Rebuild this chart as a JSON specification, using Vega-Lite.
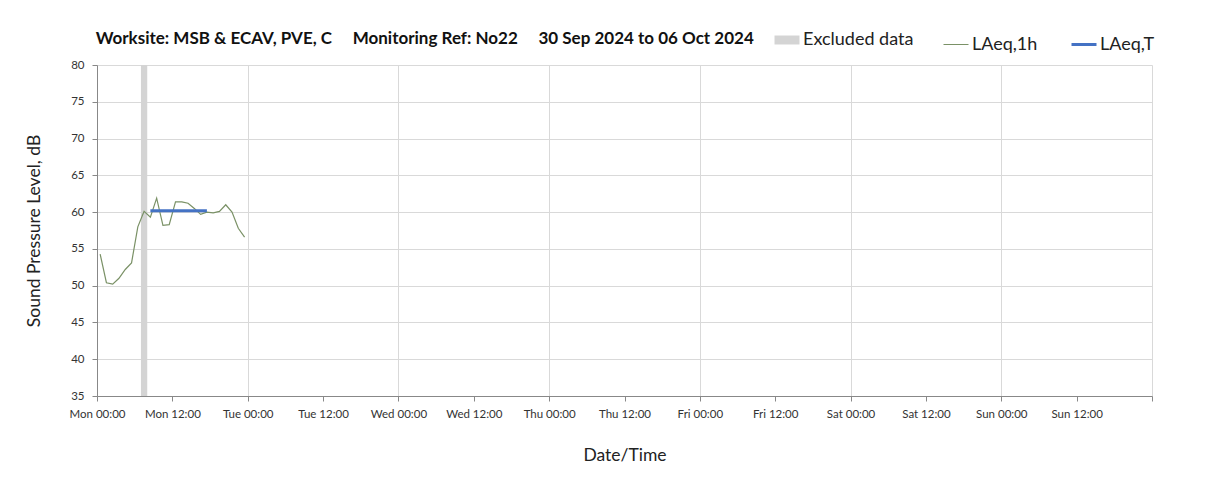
{
  "$schema": "https://vega.github.io/schema/vega-lite/v6.json",
  "padding": {"left": 25, "top": 30, "right": 0, "bottom": 10},
  "width": 1055,
  "height": 331,
  "background": "white",
  "config": {
    "view": {"stroke": null},
    "font": "Lato",
    "axisY": {"labelOverlap": false}
  },
  "title": {
    "text": "Worksite: MSB & ECAV, PVE, C\u00a0\u00a0\u00a0\u00a0 Monitoring Ref: No22\u00a0\u00a0\u00a0\u00a0 30 Sep 2024 to 06 Oct 2024",
    "anchor": "start",
    "fontSize": 17,
    "fontWeight": "bold",
    "color": "#111111",
    "offset": -17,
    "dx": 70
  },
  "layer": [
    {
      "data": {"values": [
        {"start": "2024-09-30T07:00:00Z", "end": "2024-09-30T08:00:00Z", "series": "Excluded data"}
      ]},
      "mark": {"type": "rect", "color": "#d4d4d4"},
      "encoding": {
        "x": {"field": "start", "type": "temporal"},
        "x2": {"field": "end"},
        "color": {"field": "series", "type": "nominal"}
      }
    },
    {
      "data": {"values": [
        {"t": "2024-09-30T00:30:00Z", "v": 54.3, "series": "LAeq,1h"},
        {"t": "2024-09-30T01:30:00Z", "v": 50.4, "series": "LAeq,1h"},
        {"t": "2024-09-30T02:30:00Z", "v": 50.2, "series": "LAeq,1h"},
        {"t": "2024-09-30T03:30:00Z", "v": 51.0, "series": "LAeq,1h"},
        {"t": "2024-09-30T04:30:00Z", "v": 52.2, "series": "LAeq,1h"},
        {"t": "2024-09-30T05:30:00Z", "v": 53.1, "series": "LAeq,1h"},
        {"t": "2024-09-30T06:30:00Z", "v": 58.0, "series": "LAeq,1h"},
        {"t": "2024-09-30T07:30:00Z", "v": 60.1, "series": "LAeq,1h"},
        {"t": "2024-09-30T08:30:00Z", "v": 59.3, "series": "LAeq,1h"},
        {"t": "2024-09-30T09:30:00Z", "v": 61.9, "series": "LAeq,1h"},
        {"t": "2024-09-30T10:30:00Z", "v": 58.2, "series": "LAeq,1h"},
        {"t": "2024-09-30T11:30:00Z", "v": 58.3, "series": "LAeq,1h"},
        {"t": "2024-09-30T12:30:00Z", "v": 61.4, "series": "LAeq,1h"},
        {"t": "2024-09-30T13:30:00Z", "v": 61.4, "series": "LAeq,1h"},
        {"t": "2024-09-30T14:30:00Z", "v": 61.2, "series": "LAeq,1h"},
        {"t": "2024-09-30T15:30:00Z", "v": 60.5, "series": "LAeq,1h"},
        {"t": "2024-09-30T16:30:00Z", "v": 59.7, "series": "LAeq,1h"},
        {"t": "2024-09-30T17:30:00Z", "v": 60.0, "series": "LAeq,1h"},
        {"t": "2024-09-30T18:30:00Z", "v": 59.9, "series": "LAeq,1h"},
        {"t": "2024-09-30T19:30:00Z", "v": 60.1, "series": "LAeq,1h"},
        {"t": "2024-09-30T20:30:00Z", "v": 61.0, "series": "LAeq,1h"},
        {"t": "2024-09-30T21:30:00Z", "v": 60.0, "series": "LAeq,1h"},
        {"t": "2024-09-30T22:30:00Z", "v": 57.8, "series": "LAeq,1h"},
        {"t": "2024-09-30T23:30:00Z", "v": 56.6, "series": "LAeq,1h"}
      ]},
      "mark": {"type": "line", "strokeWidth": 1.2},
      "encoding": {
        "x": {
          "field": "t",
          "type": "temporal",
          "title": "Date/Time",
          "scale": {
            "type": "utc",
            "domain": [
              {"year": 2024, "month": 9, "date": 30, "hours": 0, "utc": true},
              {"year": 2024, "month": 10, "date": 7, "hours": 0, "utc": true}
            ],
            "nice": false
          },
          "axis": {
            "values": [
              {"year": 2024, "month": 9, "date": 30, "hours": 0, "utc": true},
              {"year": 2024, "month": 9, "date": 30, "hours": 12, "utc": true},
              {"year": 2024, "month": 10, "date": 1, "hours": 0, "utc": true},
              {"year": 2024, "month": 10, "date": 1, "hours": 12, "utc": true},
              {"year": 2024, "month": 10, "date": 2, "hours": 0, "utc": true},
              {"year": 2024, "month": 10, "date": 2, "hours": 12, "utc": true},
              {"year": 2024, "month": 10, "date": 3, "hours": 0, "utc": true},
              {"year": 2024, "month": 10, "date": 3, "hours": 12, "utc": true},
              {"year": 2024, "month": 10, "date": 4, "hours": 0, "utc": true},
              {"year": 2024, "month": 10, "date": 4, "hours": 12, "utc": true},
              {"year": 2024, "month": 10, "date": 5, "hours": 0, "utc": true},
              {"year": 2024, "month": 10, "date": 5, "hours": 12, "utc": true},
              {"year": 2024, "month": 10, "date": 6, "hours": 0, "utc": true},
              {"year": 2024, "month": 10, "date": 6, "hours": 12, "utc": true},
              {"year": 2024, "month": 10, "date": 7, "hours": 0, "utc": true}
            ],
            "format": "%a %H:%M",
            "labelExpr": "datum.index == 1 ? '' : datum.label",
            "labelFontSize": 11.5,
            "labelColor": "#333333",
            "labelPadding": 7,
            "labelFlush": false,
            "labelOverlap": false,
            "domainColor": "#888888",
            "tickColor": "#888888",
            "tickSize": 5,
            "gridColor": {"condition": {"test": "utchours(datum.value) == 12", "value": "transparent"}, "value": "#d9d9d9"},
            "titleFontSize": 17.5,
            "titleFontWeight": "normal",
            "titleColor": "#222222",
            "titlePadding": 27
          }
        },
        "y": {
          "field": "v",
          "type": "quantitative",
          "title": "Sound Pressure Level, dB",
          "scale": {"domain": [35, 80], "nice": false, "zero": false},
          "axis": {
            "values": [35, 40, 45, 50, 55, 60, 65, 70, 75, 80],
            "labelFontSize": 11.5,
            "labelColor": "#333333",
            "labelPadding": 8,
            "labelOverlap": false,
            "labelFlush": false,
            "labelBound": false,
            "domainColor": "#888888",
            "tickColor": "#888888",
            "tickSize": 5,
            "gridColor": "#d9d9d9",
            "titleFontSize": 17.5,
            "titleFontWeight": "normal",
            "titleColor": "#222222",
            "titlePadding": 27
          }
        },
        "color": {
          "field": "series",
          "type": "nominal",
          "scale": {
            "domain": ["Excluded data", "LAeq,1h", "LAeq,T"],
            "range": ["#d4d4d4", "#7a9166", "#4472c4"]
          },
          "legend": {
            "title": null,
            "orient": "none",
            "direction": "horizontal",
            "legendX": 681,
            "legendY": -34,
            "labelFontSize": 18,
            "labelColor": "#222222",
            "labelOffset": 7,
            "columnPadding": 27,
            "symbolType": "stroke",
            "symbolSize": 625,
            "encode": {
              "symbols": {
                "update": {
                  "strokeWidth": {"signal": "datum.value == 'Excluded data' ? 9 : datum.value == 'LAeq,T' ? 3 : 1"}
                }
              }
            }
          }
        }
      }
    },
    {
      "data": {"values": [
        {"t": "2024-09-30T08:30:00Z", "v": 60.2, "series": "LAeq,T"},
        {"t": "2024-09-30T17:30:00Z", "v": 60.2, "series": "LAeq,T"}
      ]},
      "mark": {"type": "line", "strokeWidth": 3},
      "encoding": {
        "x": {"field": "t", "type": "temporal"},
        "y": {
          "field": "v",
          "type": "quantitative",
          "axis": {
            "values": [35, 40, 45, 50, 55, 60, 65, 70, 75, 80],
            "labelOverlap": false
          }
        },
        "color": {"field": "series", "type": "nominal"}
      }
    }
  ]
}
